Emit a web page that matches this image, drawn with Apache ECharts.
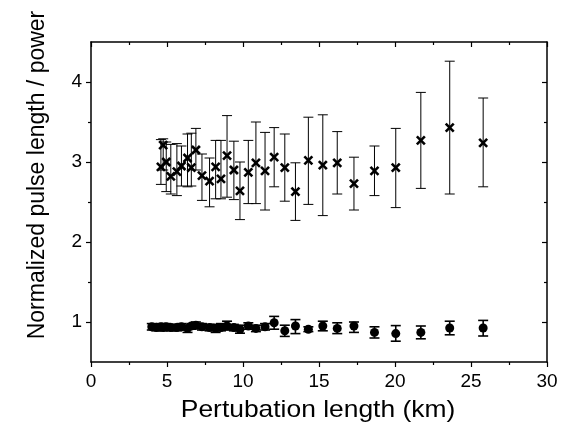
<!DOCTYPE html>
<html>
<head>
<meta charset="utf-8">
<script src="https://cdn.jsdelivr.net/npm/echarts@6/dist/echarts.min.js"></script>
<style>
  html, body { margin: 0; background: #fff; }
  #chart { width: 561px; height: 428px; }
</style>
</head>
<body>
<div id="chart"></div>
<script>
// pulse length (crosses)
const crossX  = [4.6, 4.75, 4.95, 5.25, 5.65, 5.95, 6.35, 6.6, 6.9, 7.3, 7.8, 8.2, 8.55, 8.95, 9.4, 9.8, 10.35, 10.85, 11.45, 12.05, 12.75, 13.45, 14.3, 15.25, 16.2, 17.3, 18.65, 20.05, 21.7, 23.6, 25.8];
const crossY  = [2.94, 3.21, 3.0, 2.82, 2.88, 2.95, 3.05, 2.93, 3.15, 2.83, 2.76, 2.94, 2.79, 3.08, 2.9, 2.64, 2.87, 2.99, 2.89, 3.06, 2.93, 2.63, 3.02, 2.96, 2.99, 2.73, 2.89, 2.93, 3.27, 3.43, 3.24];
const crossLo = [2.72, 2.9, 2.63, 2.6, 2.58, 2.7, 2.69, 2.7, 2.9, 2.52, 2.44, 2.54, 2.54, 2.56, 2.53, 2.28, 2.48, 2.48, 2.4, 2.69, 2.51, 2.27, 2.47, 2.33, 2.6, 2.4, 2.58, 2.43, 2.67, 2.6, 2.69];
const crossHi = [3.28, 3.29, 3.25, 3.22, 3.23, 3.2, 3.35, 3.36, 3.42, 3.1, 3.05, 3.27, 3.27, 3.58, 3.26, 3.0, 3.27, 3.5, 3.37, 3.43, 3.35, 2.99, 3.56, 3.59, 3.38, 3.06, 3.2, 3.42, 3.87, 4.26, 3.8];

// power (dots)
const dotX  = [4.0, 4.3, 4.6, 4.75, 4.95, 5.25, 5.65, 5.95, 6.35, 6.6, 6.9, 7.3, 7.8, 8.2, 8.55, 8.95, 9.4, 9.8, 10.35, 10.85, 11.45, 12.05, 12.75, 13.45, 14.3, 15.25, 16.2, 17.3, 18.65, 20.05, 21.7, 23.6, 25.8];
const dotY  = [0.94, 0.93, 0.94, 0.93, 0.94, 0.93, 0.93, 0.94, 0.92, 0.95, 0.96, 0.94, 0.93, 0.92, 0.93, 0.95, 0.93, 0.91, 0.95, 0.92, 0.94, 0.99, 0.89, 0.95, 0.91, 0.95, 0.92, 0.95, 0.87, 0.855, 0.87, 0.925, 0.925];
const dotLo = [0.9, 0.89, 0.9, 0.89, 0.9, 0.89, 0.89, 0.9, 0.87, 0.91, 0.92, 0.9, 0.89, 0.87, 0.89, 0.9, 0.89, 0.86, 0.91, 0.88, 0.9, 0.91, 0.82, 0.855, 0.88, 0.89, 0.855, 0.87, 0.8, 0.76, 0.79, 0.84, 0.825];
const dotHi = [0.98, 0.97, 0.98, 0.97, 0.98, 0.97, 0.97, 0.98, 0.96, 0.98, 1.0, 0.98, 0.97, 0.97, 0.98, 1.01, 0.97, 0.96, 0.99, 0.96, 0.98, 1.07, 0.96, 1.03, 0.94, 1.01, 0.99, 1.0, 0.94, 0.955, 0.95, 1.01, 1.02];

const yMajor = [1, 2, 3, 4];
const yMinor = [1.5, 2.5, 3.5];

const crossData = crossX.map((x, i) => [x, crossY[i], crossLo[i], crossHi[i]]);
const dotData = dotX.map((x, i) => [x, dotY[i], dotLo[i], dotHi[i]]);

function errorBars(cap, width, cross) {
  return function (params, api) {
    const x = api.value(0);
    const p = api.coord([x, api.value(1)]);
    const lo = api.coord([x, api.value(2)]);
    const hi = api.coord([x, api.value(3)]);
    const st = { stroke: '#000', lineWidth: width };
    const kids = [
      { type: 'line', shape: { x1: lo[0], y1: lo[1], x2: hi[0], y2: hi[1] }, style: st },
      { type: 'line', shape: { x1: lo[0] - cap, y1: lo[1], x2: lo[0] + cap, y2: lo[1] }, style: st },
      { type: 'line', shape: { x1: hi[0] - cap, y1: hi[1], x2: hi[0] + cap, y2: hi[1] }, style: st }
    ];
    if (cross) {
      const s = 4;
      const cs = { stroke: '#000', lineWidth: 2.6 };
      kids.push(
        { type: 'line', shape: { x1: p[0] - s, y1: p[1] - s, x2: p[0] + s, y2: p[1] + s }, style: cs },
        { type: 'line', shape: { x1: p[0] - s, y1: p[1] + s, x2: p[0] + s, y2: p[1] - s }, style: cs }
      );
    }
    return { type: 'group', children: kids };
  };
}

const font = 'Liberation Sans, Arial, sans-serif';
const line = { show: true, lineStyle: { color: '#000', width: 1.5 } };
const noLabel = { show: false };
const noSplit = { show: false };

const chart = echarts.init(document.getElementById('chart'));
chart.setOption({
  animation: false,
  backgroundColor: '#fff',
  grid: { left: 91, right: 14, top: 42, bottom: 66 },
  xAxis: [
    {
      type: 'value', min: 0, max: 30, interval: 5, position: 'bottom',
      axisLine: line,
      axisTick: { show: true, inside: false, length: 5, lineStyle: { color: '#000', width: 1.2 } },
      minorTick: { show: true, splitNumber: 2, length: 3, lineStyle: { color: '#000', width: 1.2 } },
      axisLabel: { color: '#000', fontFamily: font, fontSize: 19, margin: 10 },
      splitLine: noSplit
    },
    {
      type: 'value', min: 0, max: 30, interval: 5, position: 'top',
      axisLine: line,
      axisTick: { show: true, inside: true, length: 5, lineStyle: { color: '#000', width: 1.2 } },
      minorTick: { show: true, splitNumber: 2, length: 3, lineStyle: { color: '#000', width: 1.2 } },
      axisLabel: noLabel, splitLine: noSplit
    }
  ],
  yAxis: [
    {
      type: 'value', min: 0.5, max: 4.5, position: 'left',
      axisLine: line,
      axisTick: { show: true, inside: false, length: 5, customValues: yMajor, lineStyle: { color: '#000', width: 1.2 } },
      axisLabel: { color: '#000', fontFamily: font, fontSize: 19, margin: 9, customValues: yMajor },
      splitLine: noSplit
    },
    {
      type: 'value', min: 0.5, max: 4.5, position: 'left',
      axisLine: { show: false },
      axisTick: { show: true, inside: false, length: 3, customValues: yMinor, lineStyle: { color: '#000', width: 1.2 } },
      axisLabel: { show: false, customValues: yMinor }, splitLine: noSplit
    },
    {
      type: 'value', min: 0.5, max: 4.5, position: 'right',
      axisLine: line,
      axisTick: { show: true, inside: true, length: 5, customValues: yMajor, lineStyle: { color: '#000', width: 1.2 } },
      axisLabel: { show: false, customValues: yMajor }, splitLine: noSplit
    },
    {
      type: 'value', min: 0.5, max: 4.5, position: 'right',
      axisLine: { show: false },
      axisTick: { show: true, inside: true, length: 3, customValues: yMinor, lineStyle: { color: '#000', width: 1.2 } },
      axisLabel: { show: false, customValues: yMinor }, splitLine: noSplit
    }
  ],
  graphic: [
    {
      type: 'text', x: 38, y: 175, rotation: Math.PI / 2,
      style: {
        text: 'Normalized pulse length / power', fill: '#000',
        font: '23px ' + font, textAlign: 'center', textVerticalAlign: 'middle'
      }
    },
    {
      type: 'text', x: 318, y: 410, scaleX: 1.1,
      style: {
        text: 'Pertubation length (km)', fill: '#000',
        font: '24px ' + font, textAlign: 'center', textVerticalAlign: 'middle'
      }
    }
  ],
  series: [
    {
      type: 'custom', name: 'pulse', data: crossData,
      renderItem: errorBars(5, 1, true),
      encode: { x: 0, y: [1, 2, 3] }, clip: true
    },
    {
      type: 'custom', name: 'power bars', data: dotData,
      renderItem: errorBars(5, 1.6, false),
      encode: { x: 0, y: [1, 2, 3] }, clip: true
    },
    {
      type: 'scatter', name: 'power', data: dotData.map(d => [d[0], d[1]]),
      symbol: 'circle', symbolSize: 9,
      itemStyle: { color: '#000', opacity: 1 }
    }
  ]
});
</script>
</body>
</html>
